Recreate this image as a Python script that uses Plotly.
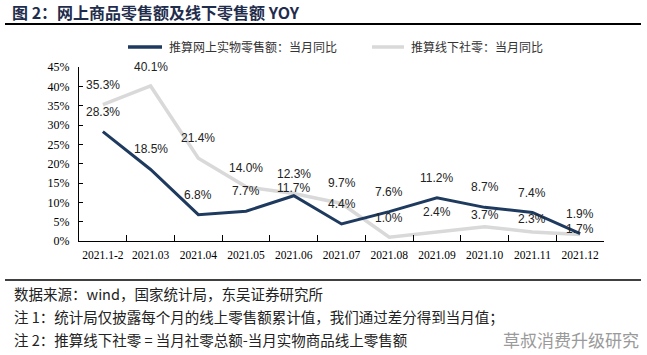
import plotly.graph_objects as go

categories = ["2021.1-2", "2021.03", "2021.04", "2021.05", "2021.06", "2021.07",
              "2021.08", "2021.09", "2021.10", "2021.11", "2021.12"]
online_yoy = [28.3, 18.5, 6.8, 7.7, 11.7, 4.4, 7.6, 11.2, 8.7, 7.4, 1.9]
offline_yoy = [35.3, 40.1, 21.4, 14.0, 12.3, 9.7, 1.0, 2.4, 3.7, 2.3, 1.7]
y_ticks = [0, 5, 10, 15, 20, 25, 30, 35, 40, 45]

name_online = "推算网上实物零售额：当月同比"
name_offline = "推算线下社零：当月同比"

# label vertical offsets (px) - styling only
shift_online = [20, 20, 20, 20, 8, 20, 20, 20, 20, 19, 20]
shift_offline = [20, 19, 20, 19, 19, 20, 19, 20, 12, 13, 5]

W, H = 647, 355
L, R, T, B = 79, 604, 67, 241


def px(x):
    return (x - L) / (R - L)


def py(y):
    return (B - y) / (B - T)


DARK = "#1F3A5F"
GRAY = "#D9D9D9"

fig = go.Figure()
idx = list(range(len(categories)))
fig.add_trace(go.Scatter(x=idx, y=offline_yoy, mode="lines",
                         line=dict(color=GRAY, width=3.5), name=name_offline,
                         hoverinfo="skip"))
fig.add_trace(go.Scatter(x=idx, y=online_yoy, mode="lines",
                         line=dict(color=DARK, width=3), name=name_online,
                         hoverinfo="skip"))

label_font = dict(family="Liberation Sans, Arial", size=12, color="#222222")
for i, v, s in zip(idx, online_yoy, shift_online):
    fig.add_annotation(x=i, y=v, text=f"{v:.1f}%", showarrow=False,
                       yshift=s, font=label_font, xref="x", yref="y")
for i, v, s in zip(idx, offline_yoy, shift_offline):
    fig.add_annotation(x=i, y=v, text=f"{v:.1f}%", showarrow=False,
                       yshift=s, font=label_font, xref="x", yref="y")

# Title
fig.add_annotation(xref="paper", yref="paper", x=px(10), y=py(12),
                   xanchor="left", yanchor="middle", showarrow=False,
                   text="<b>图 2：网上商品零售额及线下零售额 YOY</b>",
                   font=dict(family="Noto Sans CJK SC", size=16, color="#1F2D4D"))
fig.add_shape(type="line", xref="paper", yref="paper", x0=px(5), x1=px(641),
              y0=py(24), y1=py(24), line=dict(color="#000000", width=2))

# Manual legend
leg_font = dict(family="Noto Sans CJK SC", size=12, color="#333333")
fig.add_shape(type="line", xref="paper", yref="paper", x0=px(128), x1=px(162),
              y0=py(47), y1=py(47), line=dict(color=DARK, width=3.5))
fig.add_annotation(xref="paper", yref="paper", x=px(167), y=py(47),
                   xanchor="left", yanchor="middle", showarrow=False,
                   text=name_online, font=leg_font)
fig.add_shape(type="line", xref="paper", yref="paper", x0=px(372), x1=px(404),
              y0=py(47), y1=py(47), line=dict(color=GRAY, width=3.5))
fig.add_annotation(xref="paper", yref="paper", x=px(409), y=py(47),
                   xanchor="left", yanchor="middle", showarrow=False,
                   text=name_offline, font=leg_font)

# Bottom separator and notes
fig.add_shape(type="line", xref="paper", yref="paper", x0=px(5), x1=px(641),
              y0=py(280), y1=py(280), line=dict(color="#000000", width=1.5))
note_font = dict(family="Noto Sans CJK SC", size=14.5, color="#222222")
notes = ["数据来源：wind，国家统计局，东吴证券研究所",
         "注 1：统计局仅披露每个月的线上零售额累计值，我们通过差分得到当月值；",
         "注 2：推算线下社零 = 当月社零总额-当月实物商品线上零售额"]
for i, t in enumerate(notes):
    fig.add_annotation(xref="paper", yref="paper", x=px(12), y=py(293 + 23 * i),
                       xanchor="left", yanchor="middle", showarrow=False,
                       text=t, font=note_font)
fig.add_annotation(xref="paper", yref="paper", x=px(641), y=py(339),
                   xanchor="right", yanchor="middle", showarrow=False,
                   text="草叔消费升级研究",
                   font=dict(family="Noto Sans CJK SC", size=17, color="#9A9A9A"))

fig.update_layout(
    width=W, height=H,
    margin=dict(l=L, r=W - R, t=T, b=H - B, pad=0),
    paper_bgcolor="white", plot_bgcolor="white",
    showlegend=False,
    xaxis=dict(tickmode="array", tickvals=idx, ticktext=categories,
               showline=True, linecolor="black", linewidth=1,
               ticks="", showgrid=False, zeroline=False, tickangle=0,
               automargin=False, ticklabelstandoff=3,
               tickfont=dict(family="Liberation Serif, Times New Roman", size=11.5, color="black"),
               range=[-0.5, len(categories) - 0.5]),
    xaxis2=dict(overlaying="x", tickmode="array",
                tickvals=[i - 0.5 for i in range(len(categories) + 1)],
                showticklabels=False, ticks="inside", ticklen=6, tickcolor="black",
                showline=False, showgrid=False, zeroline=False, automargin=False,
                range=[-0.5, len(categories) - 0.5], anchor="y", side="bottom"),
    yaxis=dict(range=[0, 45], tickvals=y_ticks, ticktext=[f"{t}%" for t in y_ticks],
               showline=True, linecolor="black", linewidth=1,
               ticks="inside", ticklen=4, tickcolor="black",
               showgrid=False, zeroline=False, automargin=False,
               ticklabelstandoff=6,
               tickfont=dict(family="Liberation Serif, Times New Roman", size=12, color="black")),
)
# invisible trace to activate the boundary-tick axis
fig.add_trace(go.Scatter(x=[0], y=[0], xaxis="x2", mode="markers",
                         marker=dict(opacity=0), hoverinfo="skip", showlegend=False))

fig.write_html("out.html", config={"displayModeBar": False},
               post_script="document.body.style.margin='0';")
